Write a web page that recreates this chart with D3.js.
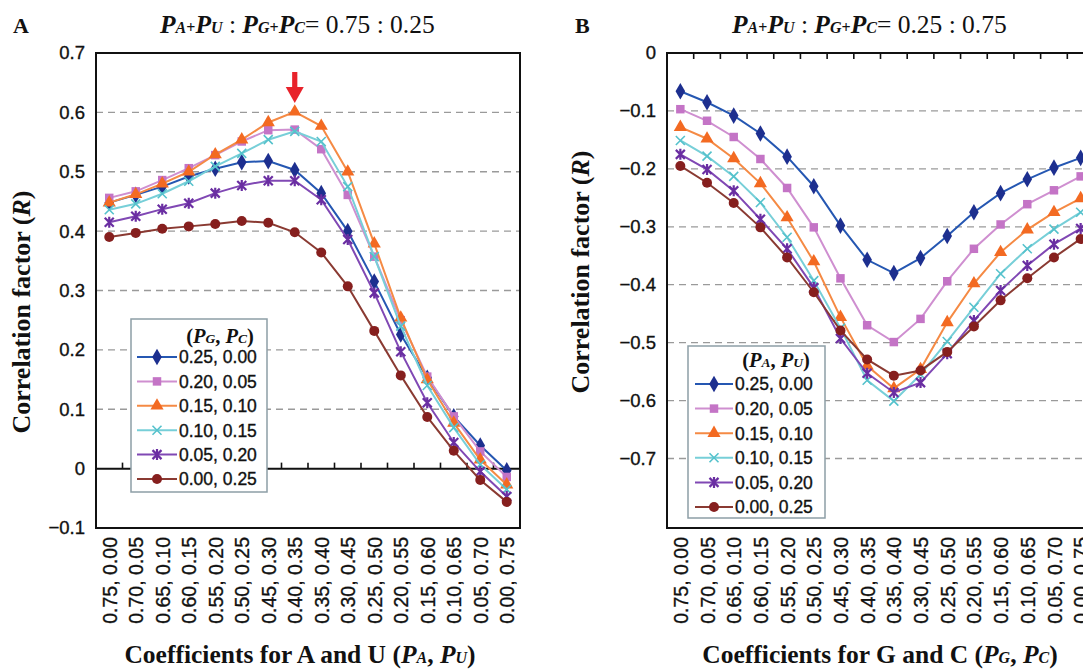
<!DOCTYPE html>
<html>
<head>
<meta charset="utf-8">
<script src="https://cdn.jsdelivr.net/npm/d3@7"></script>
<style>
  body { margin: 0; background: #fff; }
  svg { display: block; }
</style>
</head>
<body>
<svg id="chart"></svg>
<script>
// x categories (coefficient pairs), same wording on both panels
const coefLabels = [
  '0.75, 0.00', '0.70, 0.05', '0.65, 0.10', '0.60, 0.15', '0.55, 0.20', '0.50, 0.25',
  '0.45, 0.30', '0.40, 0.35', '0.35, 0.40', '0.30, 0.45', '0.25, 0.50', '0.20, 0.55',
  '0.15, 0.60', '0.10, 0.65', '0.05, 0.70', '0.00, 0.75'
];
const legendLabels = ['0.25, 0.00', '0.20, 0.05', '0.15, 0.10', '0.10, 0.15', '0.05, 0.20', '0.00, 0.25'];

// Panel A: PA+PU : PG+PC = 0.75 : 0.25
const seriesA = [
  [0.448, 0.461, 0.475, 0.492, 0.505, 0.516, 0.518, 0.503, 0.464, 0.400, 0.315, 0.226, 0.153, 0.088, 0.039, -0.003],
  [0.456, 0.467, 0.486, 0.506, 0.528, 0.551, 0.570, 0.571, 0.538, 0.461, 0.357, 0.250, 0.155, 0.088, 0.029, -0.014],
  [0.448, 0.462, 0.480, 0.500, 0.529, 0.554, 0.583, 0.601, 0.577, 0.500, 0.379, 0.254, 0.150, 0.077, 0.015, -0.027],
  [0.436, 0.446, 0.463, 0.484, 0.509, 0.531, 0.554, 0.568, 0.551, 0.475, 0.357, 0.240, 0.140, 0.069, 0.007, -0.035],
  [0.415, 0.425, 0.437, 0.447, 0.464, 0.477, 0.485, 0.485, 0.453, 0.386, 0.296, 0.197, 0.111, 0.044, -0.005, -0.047],
  [0.390, 0.397, 0.404, 0.408, 0.412, 0.417, 0.414, 0.398, 0.364, 0.307, 0.232, 0.157, 0.087, 0.030, -0.019, -0.056]
];
const yTicksA = [-0.1, 0, 0.1, 0.2, 0.3, 0.4, 0.5, 0.6, 0.7];
const gridA = [0.1, 0.2, 0.3, 0.4, 0.5, 0.6];

// Panel B: PA+PU : PG+PC = 0.25 : 0.75
const seriesB = [
  [-0.066, -0.085, -0.108, -0.139, -0.179, -0.230, -0.298, -0.357, -0.380, -0.354, -0.316, -0.275, -0.242, -0.218, -0.198, -0.181],
  [-0.097, -0.117, -0.145, -0.183, -0.233, -0.301, -0.389, -0.470, -0.499, -0.459, -0.394, -0.338, -0.296, -0.261, -0.237, -0.213],
  [-0.128, -0.148, -0.182, -0.225, -0.284, -0.360, -0.456, -0.540, -0.579, -0.546, -0.465, -0.398, -0.344, -0.305, -0.275, -0.251],
  [-0.151, -0.178, -0.213, -0.258, -0.318, -0.393, -0.475, -0.565, -0.601, -0.555, -0.498, -0.439, -0.381, -0.338, -0.304, -0.275],
  [-0.175, -0.201, -0.238, -0.287, -0.338, -0.405, -0.493, -0.553, -0.586, -0.569, -0.519, -0.462, -0.410, -0.367, -0.330, -0.303],
  [-0.195, -0.224, -0.259, -0.301, -0.353, -0.413, -0.479, -0.529, -0.557, -0.548, -0.516, -0.472, -0.427, -0.389, -0.353, -0.321]
];
const yTicksB = [-0.7, -0.6, -0.5, -0.4, -0.3, -0.2, -0.1, 0];
const gridB = [-0.1, -0.2, -0.3, -0.4, -0.5, -0.6, -0.7];

// one style per series, in legend order
const styles = [
  { line: '#2557b2', mark: '#1d2f8f', shape: 'diamond' },
  { line: '#cf8fd0', mark: '#c474c6', shape: 'square' },
  { line: '#f58a44', mark: '#f36a22', shape: 'triangle' },
  { line: '#77cfd8', mark: '#55c2cc', shape: 'cross' },
  { line: '#8048b4', mark: '#6a2ea2', shape: 'star' },
  { line: '#8a3a32', mark: '#861f1e', shape: 'circle' }
];

const SERIF = '"Liberation Serif", "Times New Roman", serif';
const SANS = '"Liberation Sans", Arial, sans-serif';
const INK = '#111';

const svg = d3.select('#chart').attr('width', 1083).attr('height', 671);
svg.append('rect').attr('width', 1083).attr('height', 671).attr('fill', '#fff');

function drawMarker(g, shape, color) {
  if (shape === 'circle') {
    g.append('circle').attr('r', 5).attr('fill', color);
  } else if (shape === 'cross' || shape === 'star') {
    let d = 'M-4.5,-4.5L4.5,4.5M-4.5,4.5L4.5,-4.5';
    if (shape === 'star') d += 'M0,-5.5L0,5.5';
    g.append('path').attr('d', d).attr('stroke', color).attr('stroke-width', shape === 'star' ? 2.2 : 1.6).attr('fill', 'none');
  } else {
    const sym = { diamond: d3.symbolDiamond, square: d3.symbolSquare, triangle: d3.symbolTriangle }[shape];
    const size = { diamond: 80, square: 72, triangle: 75 }[shape];
    g.append('path').attr('d', d3.symbol(sym, size)()).attr('fill', color);
  }
}

// text built from pieces: [string, size, weight, italic]
function richText(parent, parts) {
  parts.forEach(([s, size, weight, italic]) => {
    parent.append('tspan').text(s)
      .attr('font-size', size)
      .attr('font-weight', weight ? 'bold' : 'normal')
      .attr('font-style', italic ? 'italic' : 'normal');
  });
  return parent;
}

// sans labels look a touch heavier in the original
function sansLabel(sel, size) {
  sel.attr('font-family', SANS).attr('font-size', size).attr('fill', INK)
    .attr('stroke', INK).attr('stroke-width', 0.35);
}

function drawPanel(cfg) {
  const g = svg.append('g');
  const x = d3.scalePoint().domain(coefLabels).range([cfg.x0, cfg.x1]).padding(0.5);
  const y = d3.scaleLinear().domain(cfg.yDomain).range([cfg.y1, cfg.y0]);
  const step = x.step();
  const bounds = d3.range(1, coefLabels.length).map(k => cfg.x0 + k * step);

  // dashed grid
  g.append('g').selectAll('line').data(cfg.grid).join('line')
    .attr('x1', cfg.x0).attr('x2', cfg.x1)
    .attr('y1', d => y(d)).attr('y2', d => y(d))
    .attr('stroke', '#9a9a9a').attr('stroke-width', 1.3).attr('stroke-dasharray', '7,5');

  // zero axis with category ticks
  const y0 = y(0);
  g.append('line').attr('x1', cfg.x0).attr('x2', cfg.x1).attr('y1', y0).attr('y2', y0)
    .attr('stroke', INK).attr('stroke-width', 2);
  g.append('g').selectAll('line').data(bounds).join('line')
    .attr('x1', d => d).attr('x2', d => d)
    .attr('y1', y0).attr('y2', y0 + cfg.tickDir * 6)
    .attr('stroke', INK).attr('stroke-width', 1.6);

  // frame
  g.append('rect').attr('x', cfg.x0).attr('y', cfg.y0)
    .attr('width', cfg.x1 - cfg.x0).attr('height', cfg.y1 - cfg.y0)
    .attr('fill', 'none').attr('stroke', INK).attr('stroke-width', 2);

  // y axis labels
  const yAxis = g.append('g').attr('transform', `translate(${cfg.x0},0)`)
    .call(d3.axisLeft(y).tickValues(cfg.yTicks).tickSize(0).tickPadding(11)
      .tickFormat(d => d === 0 ? '0' : d3.format('.1f')(d).replace('-', '\u2212')));
  yAxis.select('.domain').remove();
  sansLabel(yAxis.selectAll('text'), 18.5);

  // x axis labels, rotated
  const xAxis = g.append('g').attr('transform', 'translate(0,537)')
    .call(d3.axisBottom(x).tickSize(0));
  xAxis.select('.domain').remove();
  xAxis.selectAll('text')
    .attr('transform', 'rotate(-90)').attr('text-anchor', 'end')
    .attr('x', 0).attr('y', 0).attr('dy', '0.36em');
  sansLabel(xAxis.selectAll('text'), 19.5);

  // series
  const line = d3.line().x((d, i) => x(coefLabels[i])).y(d => y(d));
  cfg.series.forEach((vals, si) => {
    const st = styles[si];
    g.append('path').datum(vals).attr('d', line)
      .attr('fill', 'none').attr('stroke', st.line).attr('stroke-width', 2);
    vals.forEach((v, i) => {
      const m = g.append('g').attr('transform', `translate(${x(coefLabels[i])},${y(v)})`);
      drawMarker(m, st.shape, st.mark);
    });
  });

  // legend
  const L = cfg.legend;
  const lg = g.append('g');
  lg.append('rect').attr('x', L.x).attr('y', L.y).attr('width', L.w).attr('height', L.h)
    .attr('fill', '#fff').attr('stroke', '#8d9ea6').attr('stroke-width', 1.5);
  const lt = lg.append('text').attr('x', L.textX + 41).attr('y', L.titleY)
    .attr('text-anchor', 'middle').attr('font-family', SERIF).attr('fill', INK);
  richText(lt, [['(', 20.5, 1, 0], ['P', 20.5, 1, 1], [cfg.legendSub[0], 13.5, 1, 1], [', ', 20.5, 1, 0],
    ['P', 20.5, 1, 1], [cfg.legendSub[1], 13.5, 1, 1], [')', 20.5, 1, 0]]);
  legendLabels.forEach((lab, i) => {
    const ry = L.rowY + i * L.rowGap;
    lg.append('line').attr('x1', L.lineX).attr('x2', L.lineX + L.lineW).attr('y1', ry).attr('y2', ry)
      .attr('stroke', styles[i].line).attr('stroke-width', 2);
    drawMarker(lg.append('g').attr('transform', `translate(${L.lineX + L.lineW / 2},${ry})`), styles[i].shape, styles[i].mark);
    sansLabel(lg.append('text').attr('x', L.textX).attr('y', ry).attr('dy', '0.36em').text(lab), 17.5);
  });

  // panel letter and title
  svg.append('text').attr('x', cfg.letterX).attr('y', 33).attr('font-family', SERIF)
    .attr('font-weight', 'bold').attr('font-size', 22).attr('fill', INK).text(cfg.letter);
  const t = svg.append('text').attr('x', cfg.titleX).attr('y', 33).attr('font-family', SERIF).attr('fill', INK);
  richText(t, [['P', 25.5, 1, 1], ['A', 16, 1, 1], ['+', 16, 1, 0], ['P', 25.5, 1, 1], ['U', 16, 1, 1],
    [' : ', 25.5, 0, 0], ['P', 25.5, 1, 1], ['G', 16, 1, 1], ['+', 16, 1, 0], ['P', 25.5, 1, 1], ['C', 16, 1, 1],
    ['= ' + cfg.ratio, 25.5, 0, 0]]);

  // axis titles
  const xt = svg.append('text').attr('x', cfg.xTitleX).attr('y', 663).attr('text-anchor', 'middle')
    .attr('font-family', SERIF).attr('font-weight', 'bold').attr('fill', INK);
  richText(xt, [[cfg.xTitle + ' (', 25.5, 1, 0], ['P', 25.5, 1, 1], [cfg.xSub[0], 16, 1, 1], [', ', 25.5, 1, 0],
    ['P', 25.5, 1, 1], [cfg.xSub[1], 16, 1, 1], [')', 25.5, 1, 0]]);
  const yt = svg.append('text').attr('transform', `translate(${cfg.yTitleX},${cfg.yTitleY}) rotate(-90)`)
    .attr('text-anchor', 'middle').attr('dy', '0.36em')
    .attr('font-family', SERIF).attr('font-weight', 'bold').attr('fill', INK);
  richText(yt, [['Correlation factor (', 26, 1, 0], ['R', 26, 1, 1], [')', 26, 1, 0]]);

  return { x, y };
}

const A = drawPanel({
  x0: 96, x1: 520, y0: 53, y1: 528, yDomain: [-0.1, 0.7],
  series: seriesA, yTicks: yTicksA, grid: gridA, tickDir: -1,
  legend: { x: 131, y: 319, w: 136, h: 173, titleY: 343, rowY: 357, rowGap: 24.4, lineX: 137, lineW: 40, textX: 179 },
  legendSub: ['G', 'C'],
  letter: 'A', letterX: 13, titleX: 160, ratio: '0.75 : 0.25',
  xTitle: 'Coefficients for A and U', xSub: ['A', 'U'], xTitleX: 300,
  yTitleX: 24, yTitleY: 312
});

drawPanel({
  x0: 667, x1: 1094, y0: 53, y1: 528, yDomain: [-0.82, 0],
  series: seriesB, yTicks: yTicksB, grid: gridB, tickDir: 1,
  legend: { x: 688, y: 346, w: 137, h: 172, titleY: 367, rowY: 384, rowGap: 24.6, lineX: 695, lineW: 38, textX: 735 },
  legendSub: ['A', 'U'],
  letter: 'B', letterX: 575, titleX: 732, ratio: '0.25 : 0.75',
  xTitle: 'Coefficients for G and C', xSub: ['G', 'C'], xTitleX: 880,
  yTitleX: 583, yTitleY: 272
});

// red arrow over the peak of panel A
const ax = A.x(coefLabels[7]);
svg.append('path')
  .attr('d', `M${ax - 2.6},72 L${ax + 2.6},72 L${ax + 2.6},87 L${ax + 9},87 L${ax},103 L${ax - 9},87 L${ax - 2.6},87 Z`)
  .attr('fill', '#e8232b');
</script>
</body>
</html>
